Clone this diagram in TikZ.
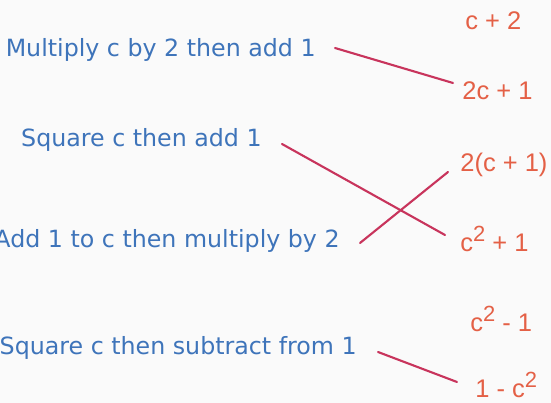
\documentclass[tikz,border=0pt]{standalone}
\usepackage{fontspec}
\usepackage{tikz}
\usetikzlibrary{positioning,calc}
\newfontfamily\handfont{DejaVu Sans}
\newfontfamily\exprfont{Liberation Sans}
\definecolor{bgF}{RGB}{250,250,250}
\definecolor{wordT}{RGB}{62,116,186}
\definecolor{exprT}{RGB}{228,96,70}
\definecolor{lnk}{RGB}{200,52,92}
\newcommand{\cSq}{c\raisebox{0.42em}{\fontsize{12.5pt}{12.5pt}\selectfont 2}}

\begin{document}
\begin{tikzpicture}[
  word/.style={anchor=base east, inner sep=0pt, text=wordT, font=\handfont\fontsize{13.5pt}{15pt}\selectfont},
  expr/.style={anchor=base west, inner sep=0pt, text=exprT, font=\exprfont\fontsize{14.5pt}{16pt}\selectfont},
  link/.style={draw=lnk, line width=1.2pt, line cap=round},
]

% ---- canvas ----
\fill[bgF] (0,0) rectangle (11.02,8.06);
\useasboundingbox (0,0) rectangle (11.02,8.06);

% ---- descriptions (left) ----
\node[word] (mul)    at (6.32,6.92) {Multiply c by 2 then add 1};
\node[word] (sq)     at (5.24,5.12) {Square c then add 1};
\node[word] (addone) at (6.80,3.10) {Add 1 to c then multiply by 2};
\node[word] (sqsub)  at (7.14,0.96) {Square c then subtract from 1};

% ---- expressions (right) ----
\node[expr] (cplus)    at (9.30,7.46) {c + 2};
\node[expr] (twoc)     at (9.24,6.06) {2c + 1};
\node[expr] (twoparen) at (9.20,4.62) {2(c + 1)};
\node[expr] (csqplus)  at (9.20,3.02) {\cSq{} + 1};
\node[expr] (csqminus) at (9.40,1.42) {\cSq{} - 1};
\node[expr] (onemin)   at (9.50,0.10) {1 - \cSq};

% ---- matching lines ----
\draw[link] ([shift={(0.38,0.18)}]mul.base east) -- ([shift={(-0.18,0.34)}]twoc.base west);
\draw[link] ([shift={(0.40,0.06)}]sq.base east) -- ([shift={(-0.30,0.34)}]csqplus.base west);
\draw[link] ([shift={(0.40,0.10)}]addone.base east) -- ([shift={(-0.24,0)}]twoparen.base west);
\draw[link] ([shift={(0.42,0.06)}]sqsub.base east) -- ([shift={(-0.36,0.32)}]onemin.base west);

\end{tikzpicture}
\end{document}
